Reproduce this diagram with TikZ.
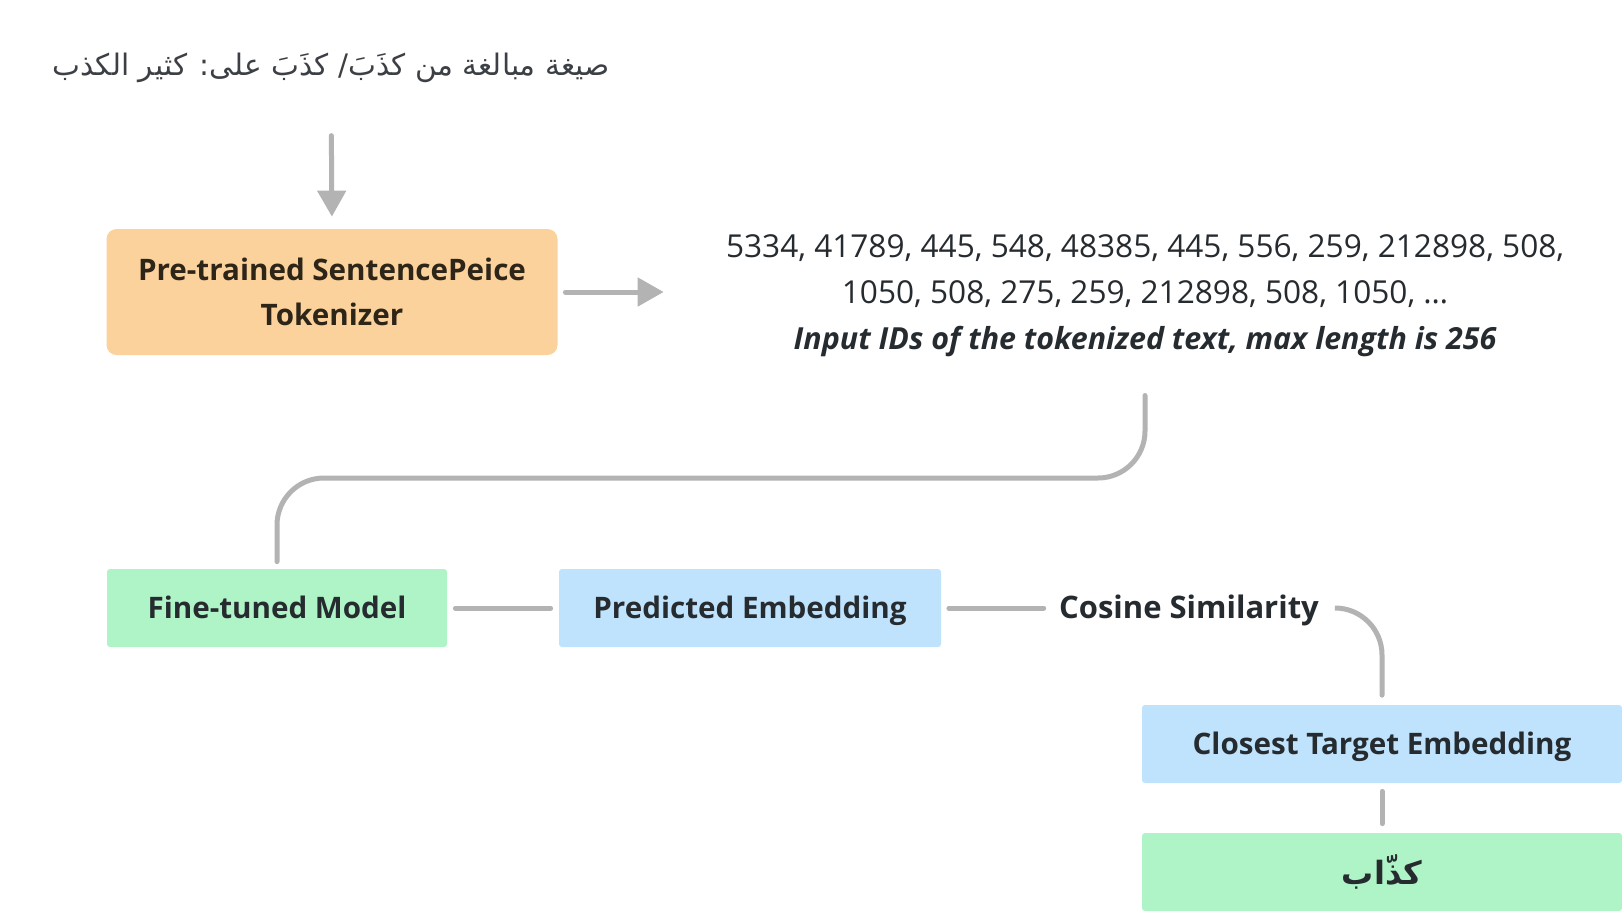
\documentclass[tikz,border=0pt]{standalone}
\usepackage{fontspec}
\setmainfont{Open Sans}
\newfontfamily\arabicfont[Script=Arabic]{DejaVu Sans}
\TeXXeTstate=1
\usetikzlibrary{arrows.meta,positioning}
\definecolor{ink}{HTML}{262B30}
\definecolor{brownink}{HTML}{2E2519}
\definecolor{wiregray}{HTML}{B3B3B3}
\definecolor{peach}{HTML}{FCD29C}
\definecolor{mint}{HTML}{AFF4C6}
\definecolor{sky}{HTML}{BFE3FC}

\begin{document}
\begin{tikzpicture}[x=0.5pt,y=-0.5pt,
  box/.style={minimum width=#1,minimum height=39pt,inner sep=0pt,rounded corners=1.5pt,
    text height=14pt,text depth=3.4pt,
    font=\fontsize{14.8}{22.5}\selectfont\bfseries,text=ink},
  link/.style={draw=wiregray,line width=2.5pt,line cap=round},
  arr/.style={link,-{Triangle[width=14pt,length=13pt]}}]
\useasboundingbox[fill=white] (0,0) rectangle (1622,912);
\node[inner sep=0pt,text depth=4pt,text=ink!90,font=\arabicfont\fontsize{14.8}{20}\selectfont]
  (title) at (331,68) {\beginR صيغة مبالغة من كذَبَ/ كذَبَ على: كثير الكذب\endR};
\node[box=225.5pt,minimum height=63pt,rounded corners=5pt,fill=peach,text=brownink,
  align=center,text height=,text depth=]
  (tok) at (332,292) {Pre-trained SentencePeice\\Tokenizer};
\node[inner sep=0pt,align=center,text=ink,font=\fontsize{15.8}{23}\selectfont]
  (ids) at (1145,296) {5334, 41789, 445, 548, 48385, 445, 556, 259, 212898, 508,\\
  1050, 508, 275, 259, 212898, 508, 1050, \dots\\
  {\fontsize{15.2}{23}\selectfont\bfseries\itshape Input IDs of the tokenized text, max length is 256}};
\coordinate (turn) at (700,478);
\node[box=170pt,fill=mint] (fine) at (277,608) {Fine-tuned Model};
\node[box=191pt,fill=sky] (pred) at (750,608) {Predicted Embedding};
\node[inner sep=0pt,text=ink,text height=14pt,text depth=3.4pt,
  font=\fontsize{15.5}{20}\selectfont\bfseries]
  (cos) at (1189,608) {Cosine Similarity};
\node[box=240pt,fill=sky] (closest) at (1382,744) {Closest Target Embedding};
\node[box=240pt,fill=mint,text height=,text depth=,
  font=\arabicfont\fontsize{16}{20}\selectfont\bfseries]
  (word) at (1382,872) {كذّاب};

\draw[arr,shorten <=26pt,shorten >=6pt] (title.south) -- (tok.north);
\draw[arr,shorten <=3.75pt,shorten >=31pt] (tok.east) -- (tok.east -| ids.west);
\draw[link,rounded corners=23.5pt,shorten <=19pt,shorten >=3.5pt]
  (ids.south) -- (ids.south |- turn) -| (fine.north);
\draw[link,shorten <=4pt,shorten >=4pt] (fine.east) -- (pred.west);
\draw[link,shorten <=3.75pt,shorten >=7.5pt] (pred.east) -- (cos.west);
\draw[link,rounded corners=23.5pt,shorten <=8.5pt,shorten >=4.75pt] (cos.east) -| (closest.north);
\draw[link,shorten <=4pt,shorten >=4.5pt] (closest.south) -- (word.north);
\end{tikzpicture}
\end{document}
